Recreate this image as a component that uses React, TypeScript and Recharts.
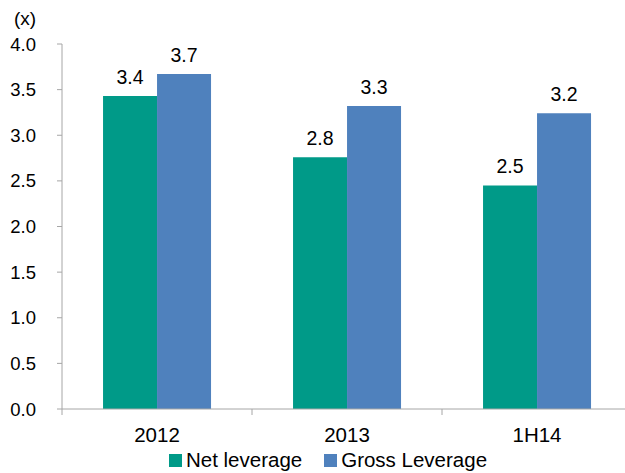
import { BarChart, Bar, XAxis, YAxis, Legend, LabelList } from "recharts";

const periods = ["2012", "2013", "1H14"];
const netLeverage = [3.43, 2.76, 2.45];
const grossLeverage = [3.67, 3.32, 3.24];
const yTicks = [0, 0.5, 1, 1.5, 2, 2.5, 3, 3.5, 4];

const seriesNames = ["Net leverage", "Gross Leverage"];
const colors = ["#009A88", "#4F81BD"];

const FONT = "'Liberation Sans', Arial, sans-serif";
const AXIS = "#A6A6A6";

const chartData = periods.map((p, i) => ({
  period: p,
  net: netLeverage[i],
  gross: grossLeverage[i],
}));

// category ticks: label in the middle, tick marks on the band edges
const CategoryTick = (props: any) => {
  const { x, y, payload, index } = props;
  const half = payload?.offset ?? 95;
  const last = index === periods.length - 1;
  return (
    <g>
      <line x1={x - half} x2={x - half} y1={y - 8} y2={y - 2} stroke={AXIS} />
      {last && <line x1={x + half} x2={x + half} y1={y - 8} y2={y - 2} stroke={AXIS} />}
      <text x={x} y={y + 25} textAnchor="middle" fontSize={20.5} fontFamily={FONT} fill="#000">
        {payload.value}
      </text>
    </g>
  );
};

const LegendContent = () => (
  <div style={{ display: "flex", justifyContent: "center", paddingLeft: 24, fontFamily: FONT, fontSize: 20.5, color: "#000", lineHeight: "22px" }}>
    {seriesNames.map((name, i) => (
      <div key={name} style={{ display: "flex", alignItems: "center", marginRight: i === 0 ? 22 : 0 }}>
        <span style={{ width: 13, height: 13, background: colors[i], display: "inline-block", marginRight: 4 }} />
        <span>{name}</span>
      </div>
    ))}
  </div>
);

const fmt = (v: any) => Number(v).toFixed(1);

export default function App() {
  return (
    <div style={{ position: "absolute", left: 0, top: 0, width: 625, height: 473, overflow: "hidden", background: "#fff" }}>
      <div style={{ position: "absolute", left: 14, top: 8, fontFamily: FONT, fontSize: 19 }}>(x)</div>
      <BarChart
        width={632}
        height={473}
        data={chartData}
        margin={{ top: 44, right: 0, left: 0, bottom: 0 }}
        barCategoryGap="21.6%"
        barGap={0}
      >
        <XAxis
          dataKey="period"
          stroke={AXIS}
          tickLine={false}
          tick={<CategoryTick />}
          height={40}
          interval={0}
        />
        <YAxis
          domain={[0, 4]}
          ticks={yTicks}
          tickFormatter={fmt}
          stroke={AXIS}
          width={62}
          tickSize={5}
          tickMargin={21}
          tick={{ fill: "#000", fontSize: 18.5, fontFamily: FONT }}
          interval={0}
        />
        <Legend verticalAlign="bottom" height={24} content={<LegendContent />} />
        <Bar dataKey="net" name={seriesNames[0]} fill={colors[0]} isAnimationActive={false}>
          <LabelList dataKey="net" position="top" offset={12} formatter={fmt} fill="#000" fontSize={19.5} fontFamily={FONT} />
        </Bar>
        <Bar dataKey="gross" name={seriesNames[1]} fill={colors[1]} isAnimationActive={false}>
          <LabelList dataKey="gross" position="top" offset={12} formatter={fmt} fill="#000" fontSize={19.5} fontFamily={FONT} />
        </Bar>
      </BarChart>
    </div>
  );
}
